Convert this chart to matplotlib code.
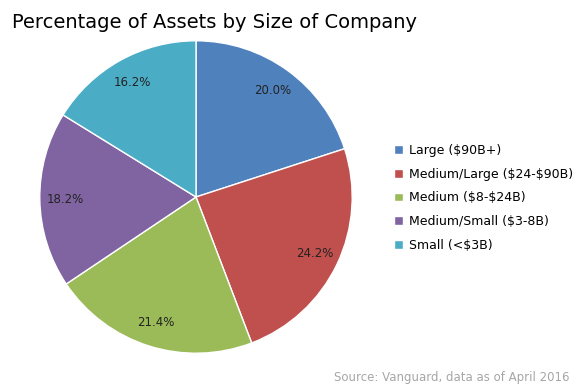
import matplotlib.pyplot as plt

# Share of assets per company size
labels = ['Large (\\$90B+)', 'Medium/Large (\\$24-\\$90B)', 'Medium (\\$8-\\$24B)',
          'Medium/Small (\\$3-8B)', 'Small (<\\$3B)']
shares = [20.0, 24.2, 21.4, 18.2, 16.2]
colors = ['#4F81BD', '#C0504D', '#9BBB59', '#8064A2', '#4BACC6']

plt.rcParams['font.family'] = ['DejaVu Sans']

fig = plt.figure(figsize=(5.8, 3.92), dpi=100)
ax = fig.add_axes([39 / 580, 38 / 392, 314 / 580, 314 / 392])

wedges, texts, autotexts = ax.pie(
    shares, colors=colors, startangle=90, counterclock=False,
    autopct='%.1f%%', pctdistance=0.84,
    wedgeprops=dict(edgecolor='white', linewidth=1.0),
    textprops=dict(fontsize=8.5, color='#222222'))
ax.set_aspect('equal')
ax.set_xlim(-1.005, 1.005)
ax.set_ylim(-1.005, 1.005)

fig.text(12 / 580, 1 - 22 / 392, 'Percentage of Assets by Size of Company',
         fontsize=14, color='black', va='center', ha='left')

fig.legend(wedges, labels, loc='center left', bbox_to_anchor=(383 / 580, 1 - 198 / 392),
           frameon=False, fontsize=9, handlelength=0.7, handleheight=0.7,
           handletextpad=0.5, labelspacing=0.85)

fig.text(570 / 580, 1 - 378 / 392, 'Source: Vanguard, data as of April 2016',
         fontsize=8.5, color='#A6A6A6', ha='right', va='center')

fig.savefig('out.png', dpi=100)
